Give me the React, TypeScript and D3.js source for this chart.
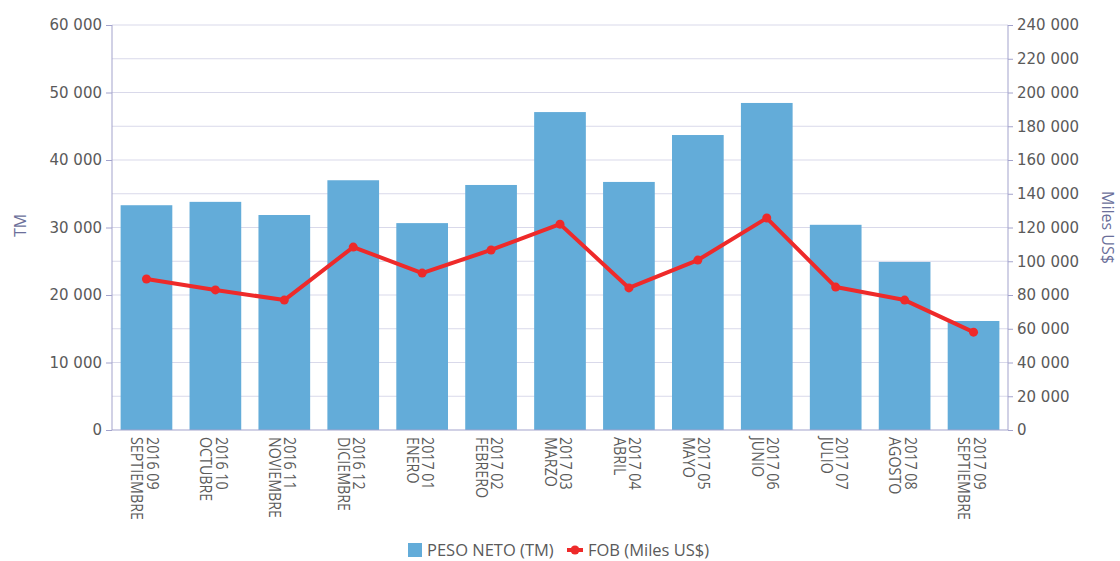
import { useEffect, useRef } from 'react';
import * as d3 from 'd3';

const periods = ['2016 09', '2016 10', '2016 11', '2016 12', '2017 01', '2017 02', '2017 03', '2017 04', '2017 05', '2017 06', '2017 07', '2017 08', '2017 09'];
const months = ['SEPTIEMBRE', 'OCTUBRE', 'NOVIEMBRE', 'DICIEMBRE', 'ENERO', 'FEBRERO', 'MARZO', 'ABRIL', 'MAYO', 'JUNIO', 'JULIO', 'AGOSTO', 'SEPTIEMBRE'];
const pesoNeto = [33300, 33800, 31850, 37000, 30650, 36300, 47100, 36750, 43700, 48450, 30400, 24900, 16150];
const fob = [89500, 83000, 77000, 108400, 93000, 106700, 122000, 84200, 100700, 125600, 84700, 77000, 58000];
const leftTicks = [0, 10000, 20000, 30000, 40000, 50000, 60000];
const rightTicks = d3.range(0, 240001, 20000);

const fmt = (v: number) => d3.format(',')(v).replace(/,/g, ' ');

export default function App() {
  const svgRef = useRef<SVGSVGElement>(null);

  useEffect(() => {
    const W = 1120, H = 561;
    const m = { top: 25, right: 112, bottom: 131, left: 112 };
    const width = W - m.left - m.right;
    const height = H - m.top - m.bottom;
    const font = '"Open Sans", sans-serif';
    const axisColor = '#a3a3cc';
    const gridColor = '#d9d9ea';
    const textColor = '#5a5a5a';

    const svg = d3.select(svgRef.current).attr('width', W).attr('height', H);
    svg.selectAll('*').remove();
    const g = svg.append('g').attr('transform', `translate(${m.left},${m.top})`);

    const idx = periods.map((_, i) => i);
    const x = d3.scaleBand<number>().domain(idx).range([0, width]).paddingInner(0.25).paddingOuter(0.125);
    const yL = d3.scaleLinear().domain([0, 60000]).range([height, 0]);
    const yR = d3.scaleLinear().domain([0, 240000]).range([height, 0]);

    // grid
    g.append('g').selectAll('line').data(d3.range(5000, 60001, 5000)).enter().append('line')
      .attr('x1', 0).attr('x2', width).attr('y1', d => yL(d)).attr('y2', d => yL(d))
      .attr('stroke', gridColor).attr('stroke-width', 1);

    // bars
    g.append('g').selectAll('rect').data(pesoNeto).enter().append('rect')
      .attr('x', (_, i) => x(i)!).attr('width', x.bandwidth())
      .attr('y', d => yL(d)).attr('height', d => height - yL(d))
      .attr('fill', '#63acd9');

    // left axis
    g.append('g').call(d3.axisLeft(yL).tickValues(leftTicks).tickFormat(d => fmt(+d)).tickSize(6).tickPadding(4))
      .call(a => {
        a.select('.domain').attr('stroke', axisColor).attr('d', `M0,${height}V0`);
        a.selectAll('line').attr('stroke', axisColor);
        a.selectAll('text').attr('fill', textColor).attr('font-size', 15).attr('font-family', '"DejaVu Sans", sans-serif');
      });

    // right axis
    g.append('g').attr('transform', `translate(${width},0)`)
      .call(d3.axisRight(yR).tickValues(rightTicks).tickFormat(d => fmt(+d)).tickSize(5).tickPadding(4))
      .call(a => {
        a.select('.domain').attr('stroke', axisColor).attr('d', `M0,${height}V0`);
        a.selectAll('line').attr('stroke', axisColor);
        a.selectAll('text').attr('fill', textColor).attr('font-size', 15).attr('font-family', '"DejaVu Sans", sans-serif');
      });

    // bottom axis line
    g.append('line').attr('x1', 0).attr('x2', width).attr('y1', height).attr('y2', height)
      .attr('stroke', axisColor);

    // x labels
    const lbl = g.append('g').selectAll('text').data(idx).enter().append('text')
      .attr('transform', i => `translate(${x(i)! + x.bandwidth() / 2 + 1},${height + 7}) rotate(90) scale(0.84,1)`)
      .attr('fill', textColor).attr('font-size', 17).attr('font-family', font);
    lbl.append('tspan').attr('x', 0).attr('dy', '0.05em').text(i => periods[i]);
    lbl.append('tspan').attr('x', 0).attr('dy', '0.9em').text(i => months[i]);

    // line
    const cx = (i: number) => x(i)! + x.bandwidth() / 2;
    g.append('path').datum(fob).attr('fill', 'none').attr('stroke', '#ee2a2a').attr('stroke-width', 4)
      .attr('stroke-linejoin', 'round')
      .attr('d', d3.line<number>().x((_, i) => cx(i)).y(d => yR(d)));
    g.append('g').selectAll('circle').data(fob).enter().append('circle')
      .attr('cx', (_, i) => cx(i)).attr('cy', d => yR(d)).attr('r', 4.5).attr('fill', '#ee2a2a');

    // axis titles
    svg.append('text').attr('transform', `translate(26,${m.top + height / 2 - 2}) rotate(-90)`)
      .attr('text-anchor', 'middle').attr('fill', '#6b6f9a').attr('font-size', 16).attr('font-family', font).text('TM');
    svg.append('text').attr('transform', `translate(1102,${m.top + height / 2}) rotate(90)`)
      .attr('text-anchor', 'middle').attr('fill', '#6b6f9a').attr('font-size', 16).attr('font-family', font).text('Miles US$');

    // legend
    const lg = svg.append('g').attr('transform', 'translate(408,550)');
    lg.append('rect').attr('x', 0).attr('y', -7).attr('width', 14).attr('height', 14).attr('fill', '#63acd9');
    lg.append('text').attr('x', 19).attr('y', 6).attr('fill', textColor).attr('font-size', 16.5).attr('font-family', font).text('PESO NETO (TM)');
    lg.append('line').attr('x1', 159).attr('x2', 175).attr('y1', 0).attr('y2', 0).attr('stroke', '#ee2a2a').attr('stroke-width', 4);
    lg.append('circle').attr('cx', 167).attr('cy', 0).attr('r', 4.5).attr('fill', '#ee2a2a');
    lg.append('text').attr('x', 180).attr('y', 6).attr('fill', textColor).attr('font-size', 16.5).attr('font-family', font).text('FOB (Miles US$)');
  }, []);

  return (
    <div style={{ position: 'absolute', left: 0, top: 0 }}>
      <svg ref={svgRef} style={{ display: 'block' }} />
    </div>
  );
}
